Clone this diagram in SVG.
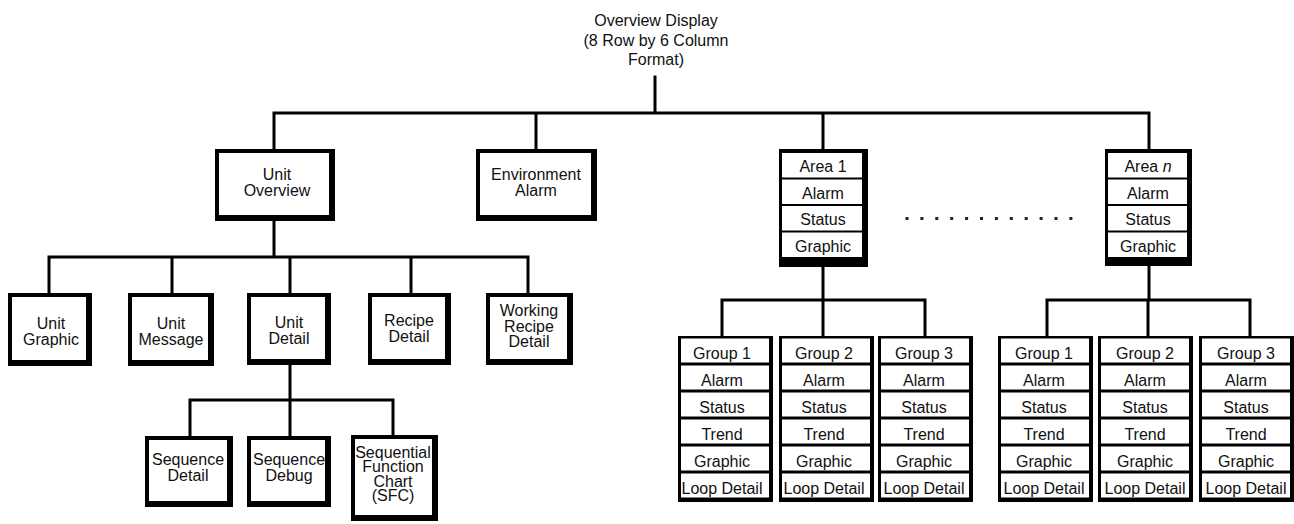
<svg xmlns="http://www.w3.org/2000/svg" width="1294" height="524" viewBox="0 0 1294 524">
  <style>
    .frame { fill: #000; }
    .cell { fill: #fff; }
    .t { font-family: "Liberation Sans", Arial, Helvetica, sans-serif; font-size: 16px; text-anchor: middle; fill: #111; }
    .wire { fill: none; stroke: #000; stroke-width: 3; stroke-linecap: square; }
    .dot { fill: #222; }
  </style>
  <rect width="1294" height="524" fill="#fff"/>

  <!-- Connectors -->
  <g id="connectors" class="wire">
    <path d="M655,77 V113 M274,113 H1149 M274,113 V149 M536,113 V149 M823,113 V149 M1149,113 V149"/>
    <path d="M274,221 V257 M49,257 H528 M49,257 V293 M172,257 V293 M290,257 V293 M411,257 V293 M528,257 V293"/>
    <path d="M290,365 V400 M190,400 H393 M190,400 V436 M290,400 V436 M393,400 V435"/>
    <path d="M823,267 V300 M722,300 H925 M722,300 V336 M823,300 V336 M925,300 V336"/>
    <path d="M1149,266 V300 M1047,300 H1250 M1047,300 V336 M1148,300 V336 M1250,300 V336"/>
  </g>

  <!-- Root title -->
  <g id="overview-display">
    <text class="t" x="656" y="26">Overview Display</text>
    <text class="t" x="656" y="46">(8 Row by 6 Column</text>
    <text class="t" x="656" y="65">Format)</text>
  </g>

  <!-- Single display boxes: black frame with heavier right/bottom edge -->
  <g id="unit-overview">
    <rect class="frame" x="215" y="149" width="120" height="72"/>
    <rect class="cell" x="219" y="153" width="110" height="62"/>
    <text class="t" x="277" y="180">Unit</text>
    <text class="t" x="277" y="195.5">Overview</text>
  </g>
  <g id="environment-alarm">
    <rect class="frame" x="476" y="149" width="121" height="72"/>
    <rect class="cell" x="480" y="153" width="111" height="62"/>
    <text class="t" x="536" y="180">Environment</text>
    <text class="t" x="536" y="195.5">Alarm</text>
  </g>
  <g id="unit-graphic">
    <rect class="frame" x="8" y="293" width="84" height="73"/>
    <rect class="cell" x="12" y="297" width="74" height="63"/>
    <text class="t" x="51" y="329">Unit</text>
    <text class="t" x="51" y="344.5">Graphic</text>
  </g>
  <g id="unit-message">
    <rect class="frame" x="128" y="293" width="86" height="73"/>
    <rect class="cell" x="132" y="297" width="76" height="63"/>
    <text class="t" x="171" y="329">Unit</text>
    <text class="t" x="171" y="344.5">Message</text>
  </g>
  <g id="unit-detail">
    <rect class="frame" x="247" y="293" width="84" height="72"/>
    <rect class="cell" x="251" y="297" width="74" height="62"/>
    <text class="t" x="289" y="328">Unit</text>
    <text class="t" x="289" y="343.5">Detail</text>
  </g>
  <g id="recipe-detail">
    <rect class="frame" x="368" y="293" width="83" height="72"/>
    <rect class="cell" x="372" y="297" width="73" height="62"/>
    <text class="t" x="409" y="326">Recipe</text>
    <text class="t" x="409" y="341.5">Detail</text>
  </g>
  <g id="working-recipe-detail">
    <rect class="frame" x="486" y="293" width="87" height="72"/>
    <rect class="cell" x="490" y="297" width="77" height="62"/>
    <text class="t" x="529" y="316">Working</text>
    <text class="t" x="529" y="331.5">Recipe</text>
    <text class="t" x="529" y="347">Detail</text>
  </g>
  <g id="sequence-detail">
    <rect class="frame" x="145" y="436" width="88" height="71"/>
    <rect class="cell" x="149" y="440" width="78" height="61"/>
    <text class="t" x="188" y="465">Sequence</text>
    <text class="t" x="188" y="480.5">Detail</text>
  </g>
  <g id="sequence-debug">
    <rect class="frame" x="247" y="436" width="84" height="71"/>
    <rect class="cell" x="251" y="440" width="74" height="61"/>
    <text class="t" x="289" y="465">Sequence</text>
    <text class="t" x="289" y="480.5">Debug</text>
  </g>
  <g id="sequential-function-chart">
    <rect class="frame" x="351" y="435" width="87" height="86"/>
    <rect class="cell" x="355" y="439" width="77" height="76"/>
    <text class="t" x="393" y="457.5">Sequential</text>
    <text class="t" x="393" y="472">Function</text>
    <text class="t" x="393" y="486.5">Chart</text>
    <text class="t" x="393" y="501">(SFC)</text>
  </g>

  <!-- Area stacks -->
  <g id="area-1">
    <rect class="frame" x="779" y="149" width="89" height="118"/>
    <rect class="cell" x="782" y="153" width="80" height="24.5"/>
    <rect class="cell" x="782" y="179.5" width="80" height="24.5"/>
    <rect class="cell" x="782" y="206" width="80" height="24.5"/>
    <rect class="cell" x="782" y="232.5" width="80" height="24.5"/>
    <text class="t" x="823" y="172">Area 1</text>
    <text class="t" x="823" y="198.5">Alarm</text>
    <text class="t" x="823" y="225">Status</text>
    <text class="t" x="823" y="251.5">Graphic</text>
  </g>
  <g id="area-n">
    <rect class="frame" x="1105" y="149" width="87" height="117"/>
    <rect class="cell" x="1108" y="153" width="79" height="24.5"/>
    <rect class="cell" x="1108" y="179.5" width="79" height="24.5"/>
    <rect class="cell" x="1108" y="206" width="79" height="24.5"/>
    <rect class="cell" x="1108" y="232.5" width="79" height="24.5"/>
    <text class="t" x="1148" y="172">Area <tspan font-style="italic">n</tspan></text>
    <text class="t" x="1148" y="198.5">Alarm</text>
    <text class="t" x="1148" y="225">Status</text>
    <text class="t" x="1148" y="251.5">Graphic</text>
  </g>

  <!-- Ellipsis between area stacks -->
  <g id="ellipsis">
    <rect class="dot" x="905.5" y="217" width="3" height="3"/>
    <rect class="dot" x="920.4" y="217" width="3" height="3"/>
    <rect class="dot" x="935.3" y="217" width="3" height="3"/>
    <rect class="dot" x="950.2" y="217" width="3" height="3"/>
    <rect class="dot" x="965.1" y="217" width="3" height="3"/>
    <rect class="dot" x="980" y="217" width="3" height="3"/>
    <rect class="dot" x="994.9" y="217" width="3" height="3"/>
    <rect class="dot" x="1009.8" y="217" width="3" height="3"/>
    <rect class="dot" x="1024.7" y="217" width="3" height="3"/>
    <rect class="dot" x="1039.6" y="217" width="3" height="3"/>
    <rect class="dot" x="1054.5" y="217" width="3" height="3"/>
    <rect class="dot" x="1069.4" y="217" width="3" height="3"/>
  </g>

  <!-- Group stacks: reusable six-row column -->
  <defs>
    <g id="group-cells">
      <rect class="frame" x="0" y="0" width="95" height="166"/>
      <rect class="cell" x="3" y="2.5" width="88" height="24"/>
      <rect class="cell" x="3" y="29.5" width="88" height="24"/>
      <rect class="cell" x="3" y="56.5" width="88" height="24"/>
      <rect class="cell" x="3" y="83.5" width="88" height="24"/>
      <rect class="cell" x="3" y="110.5" width="88" height="24"/>
      <rect class="cell" x="3" y="137.5" width="88" height="24"/>
    </g>
  </defs>

  <g id="area1-group-1" transform="translate(678,336)">
    <use href="#group-cells"/>
    <text class="t" x="44" y="22.5">Group 1</text>
    <text class="t" x="44" y="49.5">Alarm</text>
    <text class="t" x="44" y="76.5">Status</text>
    <text class="t" x="44" y="103.5">Trend</text>
    <text class="t" x="44" y="130.5">Graphic</text>
    <text class="t" x="44" y="157.5">Loop Detail</text>
  </g>
  <g id="area1-group-2" transform="translate(779,336)">
    <use href="#group-cells"/>
    <text class="t" x="45" y="22.5">Group 2</text>
    <text class="t" x="45" y="49.5">Alarm</text>
    <text class="t" x="45" y="76.5">Status</text>
    <text class="t" x="45" y="103.5">Trend</text>
    <text class="t" x="45" y="130.5">Graphic</text>
    <text class="t" x="45" y="157.5">Loop Detail</text>
  </g>
  <g id="area1-group-3" transform="translate(878,336)">
    <use href="#group-cells"/>
    <text class="t" x="46" y="22.5">Group 3</text>
    <text class="t" x="46" y="49.5">Alarm</text>
    <text class="t" x="46" y="76.5">Status</text>
    <text class="t" x="46" y="103.5">Trend</text>
    <text class="t" x="46" y="130.5">Graphic</text>
    <text class="t" x="46" y="157.5">Loop Detail</text>
  </g>
  <g id="arean-group-1" transform="translate(998,336)">
    <use href="#group-cells"/>
    <text class="t" x="46" y="22.5">Group 1</text>
    <text class="t" x="46" y="49.5">Alarm</text>
    <text class="t" x="46" y="76.5">Status</text>
    <text class="t" x="46" y="103.5">Trend</text>
    <text class="t" x="46" y="130.5">Graphic</text>
    <text class="t" x="46" y="157.5">Loop Detail</text>
  </g>
  <g id="arean-group-2" transform="translate(1098,336)">
    <use href="#group-cells"/>
    <text class="t" x="47" y="22.5">Group 2</text>
    <text class="t" x="47" y="49.5">Alarm</text>
    <text class="t" x="47" y="76.5">Status</text>
    <text class="t" x="47" y="103.5">Trend</text>
    <text class="t" x="47" y="130.5">Graphic</text>
    <text class="t" x="47" y="157.5">Loop Detail</text>
  </g>
  <g id="arean-group-3" transform="translate(1199,336)">
    <use href="#group-cells"/>
    <text class="t" x="47" y="22.5">Group 3</text>
    <text class="t" x="47" y="49.5">Alarm</text>
    <text class="t" x="47" y="76.5">Status</text>
    <text class="t" x="47" y="103.5">Trend</text>
    <text class="t" x="47" y="130.5">Graphic</text>
    <text class="t" x="47" y="157.5">Loop Detail</text>
  </g>
</svg>
